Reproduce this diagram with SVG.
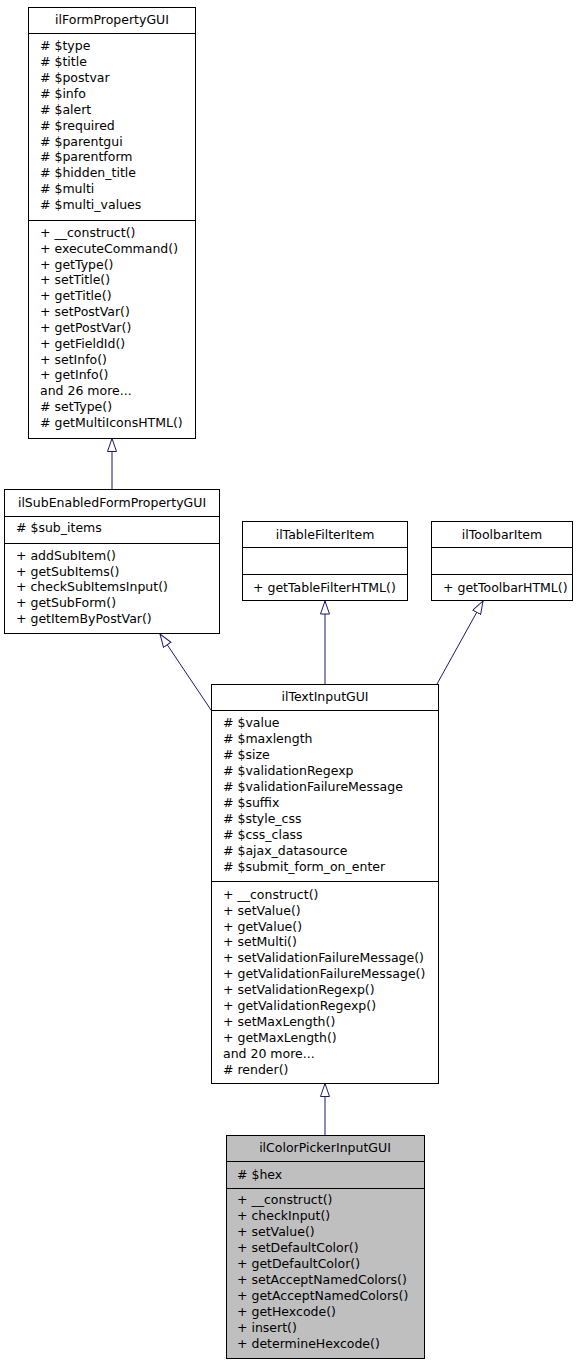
<svg xmlns="http://www.w3.org/2000/svg" width="584" height="1365" viewBox="0 0 584 1365">
<style>
  .box { fill: #ffffff; stroke: #000000; stroke-width: 1; }
  .cur { fill: #bfbfbf; stroke: #000000; stroke-width: 1; }
  .sep { stroke: #000000; stroke-width: 1; }
  text { font-family: "DejaVu Sans", "Liberation Sans", sans-serif; font-size: 12.5px; fill: #000000; }
  .t { text-anchor: middle; }
  .edge { stroke: #191970; stroke-width: 1; fill: none; marker-end: url(#inh); }
</style>
<defs>
  <marker id="inh" viewBox="0 0 14 10" refX="13.5" refY="5" markerWidth="14" markerHeight="10" markerUnits="userSpaceOnUse" orient="auto">
    <path d="M0.5,0.5 L13.5,5 L0.5,9.5 z" fill="#ffffff" stroke="#191970" stroke-width="1"/>
  </marker>
</defs>
<rect width="584" height="1365" fill="#ffffff"/>

<g id="connectors">
  <line class="edge" x1="112" y1="489" x2="112" y2="438.5"/>
  <line class="edge" x1="325" y1="684" x2="325" y2="601"/>
  <line class="edge" x1="437" y1="684" x2="483" y2="601"/>
  <line class="edge" x1="211" y1="710" x2="160" y2="634"/>
  <line class="edge" x1="325" y1="1135" x2="325" y2="1083.5"/>
</g>

<g id="ilFormPropertyGUI">
  <rect class="box" x="28.5" y="7.5" width="167" height="431"/>
  <line class="sep" x1="28.5" y1="33.5" x2="195.5" y2="33.5"/>
  <line class="sep" x1="28.5" y1="220.5" x2="195.5" y2="220.5"/>
  <text class="t" x="112" y="24">ilFormPropertyGUI</text>
  <text x="40" y="50"># $type</text>
  <text x="40" y="66"># $title</text>
  <text x="40" y="82"># $postvar</text>
  <text x="40" y="98"># $info</text>
  <text x="40" y="113.5"># $alert</text>
  <text x="40" y="129.5"># $required</text>
  <text x="40" y="145.5"># $parentgui</text>
  <text x="40" y="161"># $parentform</text>
  <text x="40" y="177"># $hidden_title</text>
  <text x="40" y="193"># $multi</text>
  <text x="40" y="209"># $multi_values</text>
  <text x="40" y="237">+ __construct()</text>
  <text x="40" y="252.5">+ executeCommand()</text>
  <text x="40" y="268.5">+ getType()</text>
  <text x="40" y="284">+ setTitle()</text>
  <text x="40" y="300">+ getTitle()</text>
  <text x="40" y="316">+ setPostVar()</text>
  <text x="40" y="331.5">+ getPostVar()</text>
  <text x="40" y="347.5">+ getFieldId()</text>
  <text x="40" y="363.5">+ setInfo()</text>
  <text x="40" y="379">+ getInfo()</text>
  <text x="40" y="395">and 26 more...</text>
  <text x="40" y="411"># setType()</text>
  <text x="40" y="427"># getMultiIconsHTML()</text>
</g>

<g id="ilSubEnabledFormPropertyGUI">
  <rect class="box" x="4.5" y="489.5" width="215" height="144"/>
  <line class="sep" x1="4.5" y1="516.5" x2="219.5" y2="516.5"/>
  <line class="sep" x1="4.5" y1="543.5" x2="219.5" y2="543.5"/>
  <text class="t" x="112" y="507">ilSubEnabledFormPropertyGUI</text>
  <text x="16" y="532"># $sub_items</text>
  <text x="16" y="559.5">+ addSubItem()</text>
  <text x="16" y="575.5">+ getSubItems()</text>
  <text x="16" y="591">+ checkSubItemsInput()</text>
  <text x="16" y="607">+ getSubForm()</text>
  <text x="16" y="623">+ getItemByPostVar()</text>
</g>

<g id="ilTableFilterItem">
  <rect class="box" x="242.5" y="521.5" width="165" height="79"/>
  <line class="sep" x1="242.5" y1="547.5" x2="407.5" y2="547.5"/>
  <line class="sep" x1="242.5" y1="574.5" x2="407.5" y2="574.5"/>
  <text class="t" x="325" y="538.5">ilTableFilterItem</text>
  <text x="253" y="592">+ getTableFilterHTML()</text>
</g>

<g id="ilToolbarItem">
  <rect class="box" x="431.5" y="521.5" width="141" height="79"/>
  <line class="sep" x1="431.5" y1="547.5" x2="572.5" y2="547.5"/>
  <line class="sep" x1="431.5" y1="574.5" x2="572.5" y2="574.5"/>
  <text class="t" x="502" y="538.5">ilToolbarItem</text>
  <text x="443" y="592">+ getToolbarHTML()</text>
</g>

<g id="ilTextInputGUI">
  <rect class="box" x="211.5" y="684.5" width="227" height="399"/>
  <line class="sep" x1="211.5" y1="710.5" x2="438.5" y2="710.5"/>
  <line class="sep" x1="211.5" y1="881.5" x2="438.5" y2="881.5"/>
  <text class="t" x="325" y="701">ilTextInputGUI</text>
  <text x="223" y="727"># $value</text>
  <text x="223" y="743"># $maxlength</text>
  <text x="223" y="759"># $size</text>
  <text x="223" y="775"># $validationRegexp</text>
  <text x="223" y="791"># $validationFailureMessage</text>
  <text x="223" y="807"># $suffix</text>
  <text x="223" y="823"># $style_css</text>
  <text x="223" y="839"># $css_class</text>
  <text x="223" y="855"># $ajax_datasource</text>
  <text x="223" y="871"># $submit_form_on_enter</text>
  <text x="223" y="898.5">+ __construct()</text>
  <text x="223" y="914.5">+ setValue()</text>
  <text x="223" y="930.5">+ getValue()</text>
  <text x="223" y="946">+ setMulti()</text>
  <text x="223" y="962">+ setValidationFailureMessage()</text>
  <text x="223" y="978">+ getValidationFailureMessage()</text>
  <text x="223" y="994">+ setValidationRegexp()</text>
  <text x="223" y="1010">+ getValidationRegexp()</text>
  <text x="223" y="1026">+ setMaxLength()</text>
  <text x="223" y="1042">+ getMaxLength()</text>
  <text x="223" y="1058">and 20 more...</text>
  <text x="223" y="1074"># render()</text>
</g>

<g id="ilColorPickerInputGUI">
  <rect class="cur" x="226.5" y="1135.5" width="198" height="223"/>
  <line class="sep" x1="226.5" y1="1161.5" x2="424.5" y2="1161.5"/>
  <line class="sep" x1="226.5" y1="1188.5" x2="424.5" y2="1188.5"/>
  <text class="t" x="325" y="1152">ilColorPickerInputGUI</text>
  <text x="237" y="1178.5"># $hex</text>
  <text x="237" y="1203.5">+ __construct()</text>
  <text x="237" y="1219.5">+ checkInput()</text>
  <text x="237" y="1235.5">+ setValue()</text>
  <text x="237" y="1251.5">+ setDefaultColor()</text>
  <text x="237" y="1267.5">+ getDefaultColor()</text>
  <text x="237" y="1283.5">+ setAcceptNamedColors()</text>
  <text x="237" y="1299.5">+ getAcceptNamedColors()</text>
  <text x="237" y="1315.5">+ getHexcode()</text>
  <text x="237" y="1331.5">+ insert()</text>
  <text x="237" y="1348">+ determineHexcode()</text>
</g>
</svg>
